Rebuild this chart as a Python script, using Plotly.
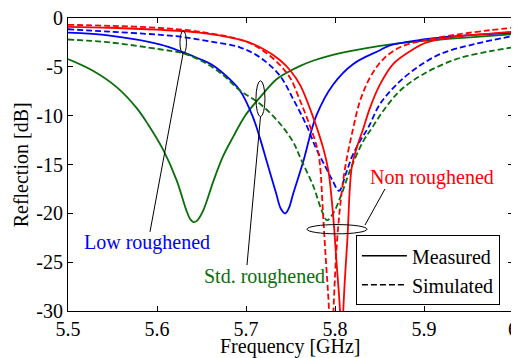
import plotly.graph_objects as go

# ---------------- data ----------------
freq_red_meas = [5.500, 5.547, 5.600, 5.648, 5.700, 5.720, 5.738, 5.750, 5.761, 5.776, 5.787,
                 5.7925, 5.7978, 5.8017, 5.8056, 5.8075, 5.8093, 5.814, 5.8188, 5.8247,
                 5.8311, 5.8393, 5.8506, 5.8655, 5.8843, 5.9030, 5.9367, 5.9742, 6.000]
refl_red_meas = [-0.9, -1.0, -1.2, -1.5, -2.4, -3.2, -4.3, -5.4, -6.9, -10.3, -13.4,
                 -15.6, -20.1, -25.0, -30.0, -38.0, -30.0, -22.5, -15.3, -13.2,
                 -11.5, -9.2, -6.8, -4.7, -3.4, -2.5, -1.9, -1.6, -1.4]

freq_red_sim = [5.500, 5.547, 5.600, 5.648, 5.700, 5.720, 5.738, 5.750, 5.760, 5.770,
                5.780, 5.7831, 5.7865, 5.7899, 5.7933, 5.7958, 5.7983, 5.8022, 5.8067,
                5.8118, 5.8199, 5.8281, 5.8393, 5.8543, 5.8730, 5.8992, 5.9367, 5.9742, 6.000]
refl_red_sim = [-0.7, -0.8, -1.0, -1.4, -2.4, -3.4, -4.8, -6.2, -8.3, -10.6,
                -13.3, -15.0, -20.0, -25.0, -30.0, -38.0, -30.0, -23.0, -18.5,
                -15.1, -11.5, -8.5, -6.1, -4.2, -3.0, -2.3, -1.7, -1.25, -1.0]

freq_blue_meas = [5.500, 5.547, 5.603, 5.629, 5.648, 5.660, 5.671, 5.693, 5.708, 5.716,
                  5.723, 5.734, 5.739, 5.744, 5.748, 5.753, 5.764, 5.779, 5.798, 5.8206,
                  5.8506, 5.8618, 5.8992, 5.9367, 6.000]
refl_blue_meas = [-1.5, -1.8, -2.7, -3.5, -4.2, -4.7, -5.4, -7.4, -10.2, -12.4,
                  -14.6, -18.0, -19.5, -20.0, -19.5, -18.0, -14.8, -10.0, -6.8, -4.7,
                  -3.3, -2.8, -2.2, -1.85, -1.5]

freq_blue_sim = [5.500, 5.547, 5.600, 5.629, 5.660, 5.693, 5.716, 5.738, 5.753, 5.768,
                 5.779, 5.789, 5.797, 5.8045, 5.8124, 5.8191, 5.8281, 5.8374, 5.8506,
                 5.8693, 5.8918, 5.9180, 5.9554, 6.000]
refl_blue_sim = [-1.15, -1.4, -1.7, -1.95, -2.4, -3.0, -4.05, -5.9, -8.3, -11.0,
                 -13.4, -15.2, -16.6, -17.7, -15.9, -14.2, -12.6, -11.2, -8.8,
                 -6.8, -5.1, -3.7, -2.7, -1.85]

freq_green_meas = [5.500, 5.528, 5.555, 5.577, 5.590, 5.607, 5.622, 5.633, 5.637, 5.641,
                   5.645, 5.652, 5.663, 5.674, 5.686, 5.699, 5.716, 5.734, 5.748, 5.761,
                   5.776, 5.7925, 5.8169, 5.8506, 5.8806, 5.9180, 5.9554, 6.000]
refl_green_meas = [-4.2, -5.4, -7.1, -9.2, -10.9, -13.5, -16.6, -19.7, -20.55, -20.9,
                   -20.75, -19.7, -16.8, -14.2, -12.1, -10.0, -8.1, -6.3, -5.5, -4.9,
                   -4.35, -3.9, -3.4, -2.85, -2.5, -2.2, -1.95, -1.65]

freq_green_sim = [5.500, 5.547, 5.603, 5.629, 5.648, 5.671, 5.693, 5.716, 5.738, 5.753,
                  5.761, 5.776, 5.785, 5.791, 5.798, 5.8075, 5.8169, 5.8318, 5.8412,
                  5.8543, 5.8730, 5.8992, 5.9367, 5.9742, 6.000]
refl_green_sim = [-2.2, -2.5, -3.2, -3.6, -4.3, -5.6, -7.4, -8.8, -10.8, -12.7,
                  -14.3, -17.3, -19.7, -20.7, -20.0, -18.0, -15.6, -12.6, -11.3,
                  -9.5, -7.45, -5.75, -4.2, -3.4, -3.0]

x_tick_vals = [5.5, 5.6, 5.7, 5.8, 5.9, 6.0]
x_tick_text = ["5.5", "5.6", "5.7", "5.8", "5.9", "6"]
y_tick_vals = [0, -5, -10, -15, -20, -25, -30]
y_tick_text = ["0", "-5", "-10", "-15", "-20", "-25", "-30"]

RED = "#ff0000"
BLUE = "#0000ff"
GREEN = "#0a6e0a"
FONT = "Liberation Serif, Times New Roman, DejaVu Serif, serif"
DASH = "6px,3px"
LW = 1.8

fig = go.Figure()

series = [
    (freq_green_meas, refl_green_meas, GREEN, "solid"),
    (freq_blue_meas, refl_blue_meas, BLUE, "solid"),
    (freq_green_sim, refl_green_sim, GREEN, DASH),
    (freq_blue_sim, refl_blue_sim, BLUE, DASH),
    (freq_red_sim, refl_red_sim, RED, DASH),
    (freq_red_meas, refl_red_meas, RED, "solid"),
]
for fx, fy, col, dash in series:
    fig.add_trace(go.Scatter(x=fx, y=fy, mode="lines",
                             line=dict(color=col, width=LW, dash=dash, shape="spline", smoothing=1.0),
                             showlegend=False, hoverinfo="skip"))

# legend entries (black)
fig.add_trace(go.Scatter(x=[None], y=[None], mode="lines", name="Measured",
                         line=dict(color="black", width=1.5)))
fig.add_trace(go.Scatter(x=[None], y=[None], mode="lines", name="Simulated",
                         line=dict(color="black", width=1.5, dash=DASH)))

# ellipses and pointer lines
shapes = [
    dict(type="circle", xref="x", yref="y", x0=5.6258, x1=5.6331, y0=-1.33, y1=-3.67,
         line=dict(color="black", width=1)),
    dict(type="line", xref="x", yref="y", x0=5.6292, y0=-3.67, x1=5.5921, y1=-21.9,
         line=dict(color="black", width=1)),
    dict(type="circle", xref="x", yref="y", x0=5.7112, x1=5.7213, y0=-6.43, y1=-10.1,
         line=dict(color="black", width=1)),
    dict(type="line", xref="x", yref="y", x0=5.7163, y0=-10.1, x1=5.7011, y1=-25.3,
         line=dict(color="black", width=1)),
    dict(type="circle", xref="x", yref="y", x0=5.7685, x1=5.836, y0=-21.15, y1=-22.1,
         line=dict(color="black", width=1)),
    dict(type="line", xref="x", yref="y", x0=5.8337, y0=-21.2, x1=5.8562, y1=-17.5,
         line=dict(color="black", width=1)),
]

annotations = [
    dict(x=5.5888, y=-22.96, xref="x", yref="y", text="Low roughened", showarrow=False,
         font=dict(family=FONT, size=20, color=BLUE)),
    dict(x=5.7213, y=-26.5, xref="x", yref="y", text="Std. roughened", showarrow=False,
         font=dict(family=FONT, size=20, color=GREEN)),
    dict(x=5.909, y=-16.3, xref="x", yref="y", text="Non roughened", showarrow=False,
         font=dict(family=FONT, size=20, color=RED)),
    dict(x=0.5, y=-0.12, xref="paper", yref="paper", text="Frequency [GHz]", showarrow=False,
         xanchor="center", yanchor="middle", font=dict(family=FONT, size=20, color="black")),
    dict(x=-0.106, y=0.5, xref="paper", yref="paper", text="Reflection [dB]", showarrow=False,
         textangle=-90, xanchor="center", yanchor="middle",
         font=dict(family=FONT, size=20, color="black")),
]

axis_common = dict(showline=True, linecolor="black", linewidth=1, mirror="ticks",
                   ticks="inside", ticklen=5, tickcolor="black", showgrid=False,
                   zeroline=False, automargin=False, ticklabeloverflow="allow",
                   tickfont=dict(family=FONT, size=20, color="black"))

# the page body adds an 8px offset, so the figure is 8px smaller than the window
fig.update_layout(
    width=511, height=350,
    margin=dict(l=60, r=6, t=10, b=47),
    paper_bgcolor="white", plot_bgcolor="white",
    font=dict(family=FONT, size=20, color="black"),
    xaxis=dict(range=[5.5, 6.0], tickmode="array", tickvals=x_tick_vals, ticktext=x_tick_text,
               **axis_common),
    yaxis=dict(range=[-30, 0], tickmode="array", tickvals=y_tick_vals, ticktext=y_tick_text,
               **axis_common),
    shapes=shapes,
    annotations=annotations,
    showlegend=True,
    legend=dict(x=0.647, y=0.2585, xanchor="left", yanchor="top",
                bgcolor="white", bordercolor="black", borderwidth=1, itemwidth=45,
                font=dict(family=FONT, size=20), tracegroupgap=0),
)

fig.write_html("out.html")
